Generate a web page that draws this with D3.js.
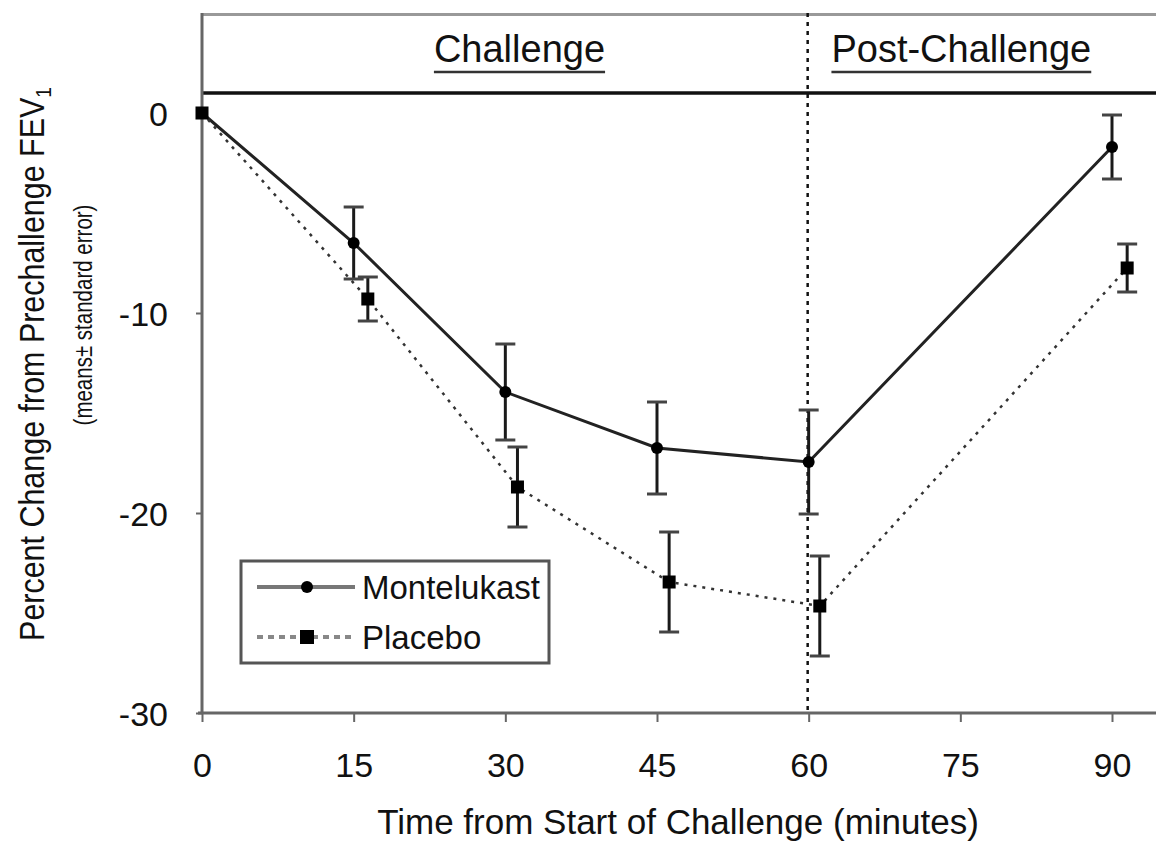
<!DOCTYPE html>
<html>
<head>
<meta charset="utf-8">
<script src="https://cdn.jsdelivr.net/npm/d3@7"></script>
<style>
  html, body { margin: 0; padding: 0; background: #fff; }
  svg { display: block; font-family: "Liberation Sans", Arial, sans-serif; }
</style>
</head>
<body>
<svg id="chart" width="1156" height="842"></svg>
<script>
// Percent change in FEV1 during and after exercise challenge
const xTicks = [0, 15, 30, 45, 60, 75, 90];
const yTicks = [0, -10, -20, -30];

const montelukastTime = [0, 15, 30, 45, 60, 90];
const montelukastMean = [0, -6.5, -13.95, -16.75, -17.45, -1.7];
const montelukastSE   = [0, 1.8, 2.4, 2.3, 2.6, 1.6];

// placebo points are drawn slightly to the right so the error bars do not overlap
const placeboTime = [0, 16.4, 31.2, 46.2, 61.1, 91.5];
const placeboMean = [0, -9.3, -18.7, -23.45, -24.65, -7.75];
const placeboSE   = [0, 1.1, 2.0, 2.5, 2.5, 1.2];

const phaseLabels = ["Challenge", "Post-Challenge"];
const phaseCenters = [31.4, 75.1];
const phaseBoundary = 60;

const series = [
  { name: "Montelukast", t: montelukastTime, m: montelukastMean, se: montelukastSE, marker: "circle", dash: null },
  { name: "Placebo", t: placeboTime, m: placeboMean, se: placeboSE, marker: "square", dash: "3,6" }
];

const svg = d3.select("#chart");
const x = d3.scaleLinear().domain([0, 90]).range([202, 1112]);
const y = d3.scaleLinear().domain([-30, 5]).range([713, 13]);
const xRightEdge = 1156;

const ink = "#111";
const axisGray = "#666";

// frame: top border, header divider
svg.append("line").attr("x1", x(0)).attr("x2", xRightEdge)
  .attr("y1", y(5) + 1.5).attr("y2", y(5) + 1.5)
  .attr("stroke", "#999").attr("stroke-width", 3);
svg.append("line").attr("x1", x(0)).attr("x2", xRightEdge)
  .attr("y1", y(1)).attr("y2", y(1))
  .attr("stroke", ink).attr("stroke-width", 3.5);

// phase labels
phaseLabels.forEach((lab, i) => {
  const t = svg.append("text")
    .attr("x", x(phaseCenters[i])).attr("y", 62)
    .attr("text-anchor", "middle")
    .attr("font-size", 38).attr("fill", ink)
    .text(lab);
  const bb = t.node().getBBox();
  svg.append("line").attr("x1", bb.x).attr("x2", bb.x + bb.width)
    .attr("y1", 72).attr("y2", 72)
    .attr("stroke", "#333").attr("stroke-width", 2.5);
});

// boundary between challenge and post-challenge
svg.append("line")
  .attr("x1", x(phaseBoundary) - 1).attr("x2", x(phaseBoundary) - 1)
  .attr("y1", y(5)).attr("y2", y(-30))
  .attr("stroke", ink).attr("stroke-width", 2.5)
  .attr("stroke-dasharray", "4,5");

// y axis
const yAxis = svg.append("g").attr("transform", `translate(${x(0)},0)`)
  .call(d3.axisLeft(y).tickValues(yTicks).tickSize(6).tickPadding(28)
    .tickFormat(d => d === 0 ? "0" : "-" + Math.abs(d)));
yAxis.select(".domain").remove();
yAxis.append("line").attr("x1", 0).attr("x2", 0)
  .attr("y1", y(5)).attr("y2", y(-30))
  .attr("stroke", axisGray).attr("stroke-width", 3);
yAxis.selectAll(".tick line").attr("stroke", axisGray).attr("stroke-width", 2);
yAxis.selectAll(".tick text").attr("font-size", 34).attr("fill", ink)
  .attr("font-family", "Liberation Sans, Arial, sans-serif").attr("dy", "0.36em");

// x axis
const xAxis = svg.append("g").attr("transform", `translate(0,${y(-30)})`)
  .call(d3.axisBottom(x).tickValues(xTicks).tickSize(9).tickPadding(31));
xAxis.select(".domain").remove();
xAxis.append("line").attr("x1", x(0) - 4).attr("x2", xRightEdge)
  .attr("y1", 0).attr("y2", 0)
  .attr("stroke", axisGray).attr("stroke-width", 3);
xAxis.selectAll(".tick line").attr("stroke", axisGray).attr("stroke-width", 2);
xAxis.selectAll(".tick text").attr("font-size", 34).attr("fill", ink)
  .attr("font-family", "Liberation Sans, Arial, sans-serif");

// axis titles
svg.append("text")
  .attr("x", 678).attr("y", 834)
  .attr("text-anchor", "middle").attr("font-size", 35).attr("fill", ink)
  .text("Time from Start of Challenge (minutes)");

const yTitle = svg.append("text")
  .attr("transform", "translate(44,364) rotate(-90) scale(0.87,1)")
  .attr("text-anchor", "middle").attr("font-size", 35).attr("fill", ink);
yTitle.append("tspan").text("Percent Change from Prechallenge FEV");
yTitle.append("tspan").attr("font-size", 22).attr("dy", 7).text("1");

svg.append("text")
  .attr("transform", "translate(92,315) rotate(-90) scale(0.82,1)")
  .attr("text-anchor", "middle").attr("font-size", 25).attr("fill", ink)
  .text("(means\u00b1 standard error)");

// series lines, error bars, markers
const capHalf = 10;
series.forEach(s => {
  const pts = s.t.map((t, i) => ({ t, m: s.m[i], se: s.se[i] }));
  const line = d3.line().x(d => x(d.t)).y(d => y(d.m));
  const path = svg.append("path").datum(pts)
    .attr("d", line).attr("fill", "none")
    .attr("stroke", s.dash ? "#333" : "#222")
    .attr("stroke-width", s.dash ? 2.5 : 3);
  if (s.dash) path.attr("stroke-dasharray", s.dash);

  const eb = svg.append("g");
  pts.filter(d => d.se > 0).forEach(d => {
    const cx = x(d.t), top = y(d.m + d.se), bot = y(d.m - d.se);
    eb.append("line").attr("x1", cx).attr("x2", cx).attr("y1", top).attr("y2", bot)
      .attr("stroke", "#1a1a1a").attr("stroke-width", 3);
    [top, bot].forEach(yy => eb.append("line")
      .attr("x1", cx - capHalf).attr("x2", cx + capHalf).attr("y1", yy).attr("y2", yy)
      .attr("stroke", "#444").attr("stroke-width", 3));
  });

  if (s.marker === "circle") {
    svg.append("g").selectAll("circle").data(pts).join("circle")
      .attr("cx", d => x(d.t)).attr("cy", d => y(d.m)).attr("r", 6).attr("fill", "#000");
  } else {
    svg.append("g").selectAll("rect").data(pts).join("rect")
      .attr("x", d => x(d.t) - 6.5).attr("y", d => y(d.m) - 6.5)
      .attr("width", 13).attr("height", 13).attr("fill", "#000");
  }
});

// legend
const lg = svg.append("g").attr("transform", "translate(241,561)");
lg.append("rect").attr("width", 308).attr("height", 102)
  .attr("fill", "#fff").attr("stroke", "#555").attr("stroke-width", 3);
series.forEach((s, i) => {
  const yy = 26 + i * 50;
  const ln = lg.append("line").attr("x1", 16).attr("x2", 114).attr("y1", yy).attr("y2", yy)
    .attr("stroke", s.dash ? "#888" : "#777").attr("stroke-width", 4);
  if (s.dash) ln.attr("stroke-dasharray", "6,5");
  if (s.marker === "circle") {
    lg.append("circle").attr("cx", 66).attr("cy", yy).attr("r", 6).attr("fill", "#000");
  } else {
    lg.append("rect").attr("x", 59).attr("y", yy - 7).attr("width", 14).attr("height", 14).attr("fill", "#000");
  }
  lg.append("text").attr("x", 121).attr("y", yy + 12)
    .attr("font-size", 33).attr("fill", ink).text(s.name);
});
</script>
</body>
</html>
